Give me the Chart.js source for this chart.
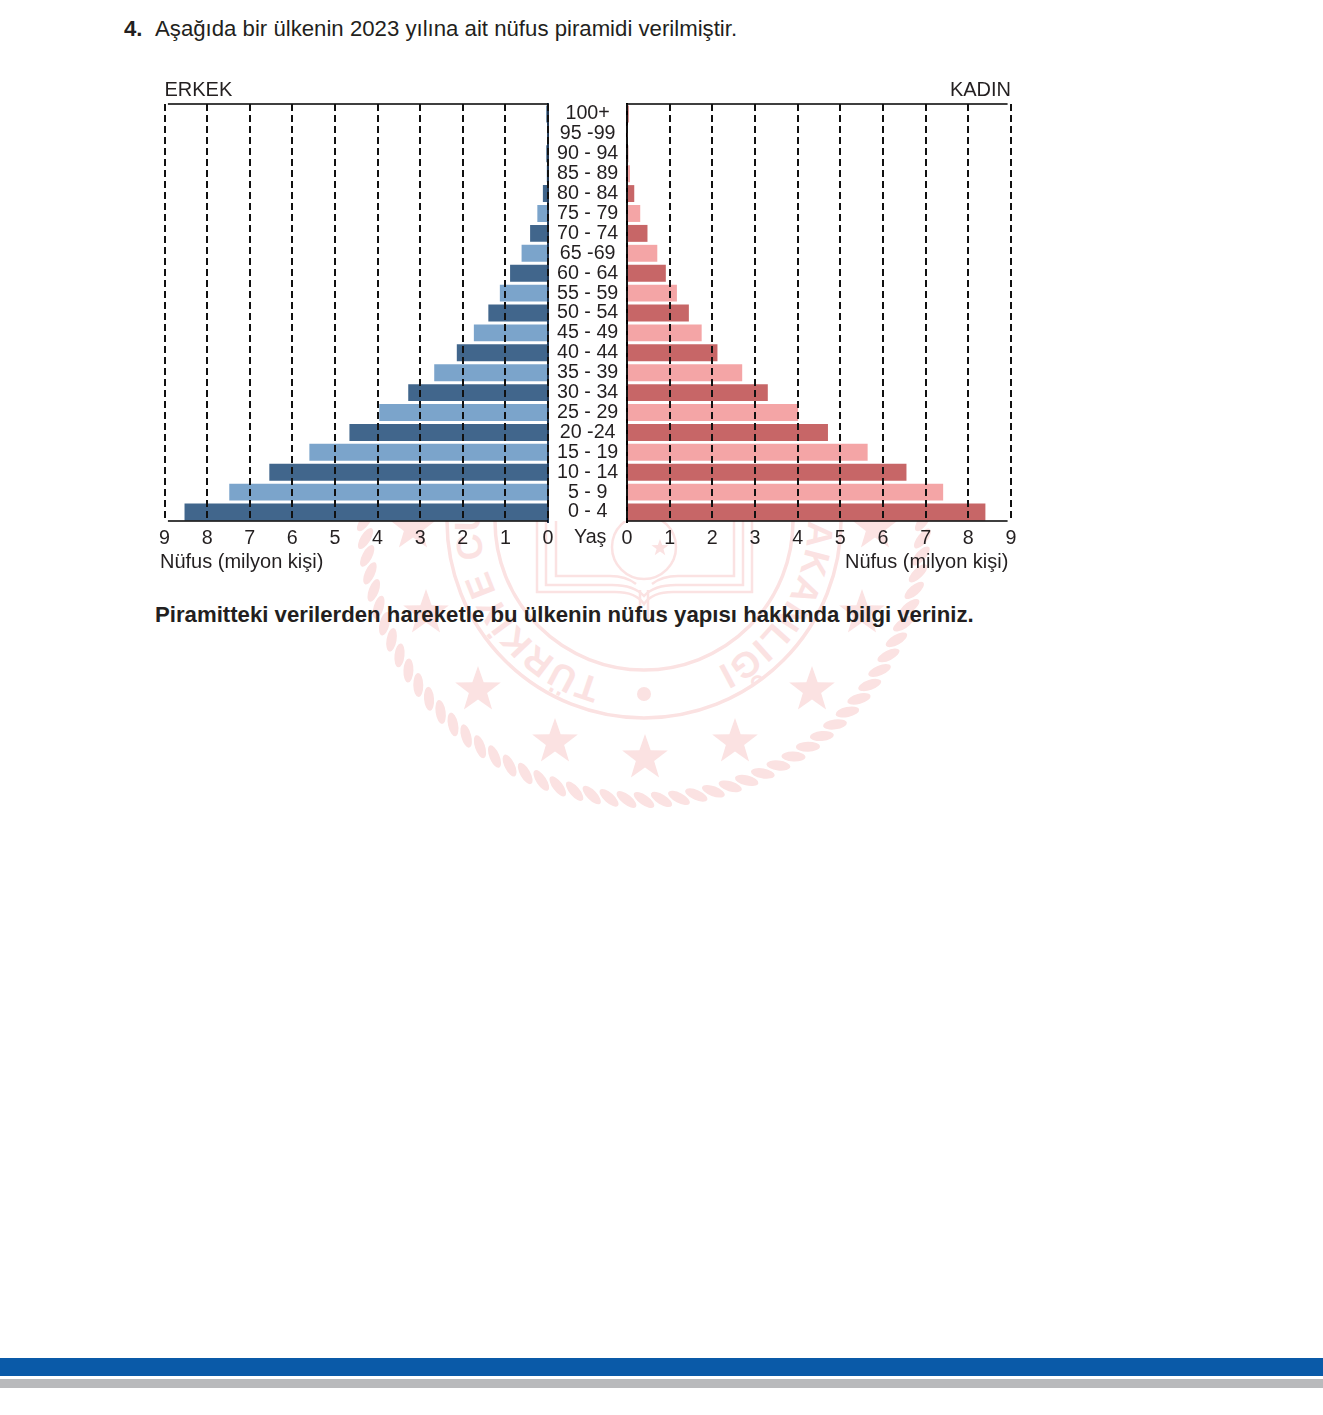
<!DOCTYPE html>
<html lang="tr">
<head>
<meta charset="utf-8">
<title>Nüfus piramidi</title>
<script src="https://cdn.jsdelivr.net/npm/chart.js@4"></script>
<style>
    html, body { margin: 0; padding: 0; background: #fff; }
    body { width: 1323px; height: 1415px; position: relative; overflow: hidden;
           font-family: "Liberation Sans", Arial, sans-serif; color: #231f20; }
    .abs { position: absolute; white-space: nowrap; line-height: 1; }
    #seal { position: absolute; left: 0; top: 0; }
    #cover { position: absolute; left: 150px; top: 70px; width: 870px; height: 451px; background: #fff; }
    canvas { position: absolute; }
    #bandBlue { position: absolute; left: 0; top: 1358px; width: 1323px; height: 18px; background: #0a5aa8; }
    #bandGrey { position: absolute; left: 0; top: 1379px; width: 1323px; height: 9px; background: #b9babc; }
</style>
</head>
<body>
<svg id="seal" width="1323" height="900" xmlns="http://www.w3.org/2000/svg"></svg>
<div id="cover"></div>

<div class="abs" style="left:124px;top:18px;font-size:22.2px;font-weight:bold;">4.</div>
<div class="abs" style="left:155px;top:18px;font-size:22.2px;">Aşağıda bir ülkenin 2023 yılına ait nüfus piramidi verilmiştir.</div>

<div style="position:absolute;left:150px;top:20px;width:477px;height:560px;"><canvas id="erkekChart"></canvas></div>
<div style="position:absolute;left:610px;top:20px;width:415px;height:560px;"><canvas id="kadinChart"></canvas></div>

<div class="abs" style="left:574px;top:527px;font-size:19.7px;">Yaş</div>
<div class="abs" style="left:160px;top:551px;font-size:20px;">Nüfus (milyon kişi)</div>
<div class="abs" style="left:845px;top:551px;font-size:20px;">Nüfus (milyon kişi)</div>
<div class="abs" style="left:155px;top:604px;font-size:22.2px;font-weight:bold;">Piramitteki verilerden hareketle bu ülkenin nüfus yapısı hakkında bilgi veriniz.</div>

<div id="bandBlue"></div>
<div id="bandGrey"></div>

<script>
// Yaş grupları (yukarıdan aşağıya)
var ageGroups = ['100+', '95 -99', '90 - 94', '85 - 89', '80 - 84', '75 - 79', '70 - 74', '65 -69', '60 - 64',
    '55 - 59', '50 - 54', '45 - 49', '40 - 44', '35 - 39', '30 - 34', '25 - 29', '20 -24', '15 - 19',
    '10 - 14', '5 - 9', '0 - 4'];

// Nüfus (milyon kişi)
var maleValues = [0.04, 0.02, 0.04, 0.03, 0.12, 0.25, 0.42, 0.62, 0.89, 1.13, 1.40, 1.74, 2.14, 2.67,
    3.28, 3.96, 4.66, 5.60, 6.54, 7.48, 8.53];
var femaleValues = [0.04, 0.02, 0.03, 0.07, 0.17, 0.31, 0.48, 0.71, 0.91, 1.17, 1.45, 1.75, 2.12, 2.70,
    3.30, 4.01, 4.71, 5.64, 6.55, 7.41, 8.40];

var textColor = '#231f20';
var labelFont = { family: '"Liberation Sans", Arial, sans-serif', size: 19.7 };

// Üst ve alt yatay çizgiler, grafiğin kendi ölçeğinden
var framePlugin = {
    id: 'frame',
    afterDatasetsDraw: function(chart, args, opts) {
        var c = chart.ctx, area = chart.chartArea;
        var x0 = chart.scales.x.getPixelForValue(0);
        var x1 = chart.scales.x.getPixelForValue(opts.end);
        c.save();
        c.strokeStyle = '#000';
        c.lineWidth = 1.5;
        c.beginPath();
        c.moveTo(x0, area.top);
        c.lineTo(x1, area.top);
        c.moveTo(x0, area.bottom - 1);
        c.lineTo(x1, area.bottom - 1);
        c.stroke();
        c.restore();
    }
};

function makeSide(canvasId, label, values, dark, light, isLeft) {
    return new Chart(document.getElementById(canvasId).getContext('2d'), {
        type: 'bar',
        data: {
            labels: ageGroups,
            datasets: [{
                label: label,
                data: values,
                backgroundColor: function(c) { return c.dataIndex % 2 === 0 ? dark : light; },
                categoryPercentage: 1,
                barPercentage: 0.85
            }]
        },
        plugins: [framePlugin],
        options: {
            indexAxis: 'y',
            responsive: true,
            maintainAspectRatio: false,
            animation: false,
            layout: {
                padding: isLeft ? { left: 14.5, right: 0, top: 58.5, bottom: 0 } : { left: 17, right: 14, top: 58.5, bottom: 0 }
            },
            plugins: {
                legend: { display: false },
                tooltip: { enabled: false },
                frame: { end: 8.92 },
                title: {
                    display: true,
                    text: label,
                    align: isLeft ? 'start' : 'end',
                    color: textColor,
                    font: { family: labelFont.family, size: 20, weight: 'normal' },
                    padding: { top: 0, bottom: 1.5 }
                }
            },
            scales: {
                x: {
                    type: 'linear',
                    min: 0,
                    max: 9,
                    reverse: isLeft,
                    afterFit: function(s) { s.height = 58; },
                    grid: { color: '#111', lineWidth: 2, z: 1, drawTicks: false },
                    border: { display: false, dash: [7, 4] },
                    ticks: { stepSize: 1, color: textColor, font: labelFont, padding: 5, maxRotation: 0 }
                },
                y: {
                    type: 'category',
                    position: isLeft ? 'right' : 'left',
                    afterFit: function(s) { s.width = isLeft ? 79 : 0; },
                    grid: { display: false },
                    border: { color: isLeft ? '#1f3550' : '#000', width: 2 },
                    ticks: {
                        display: isLeft,
                        autoSkip: false,
                        color: textColor,
                        font: labelFont,
                        crossAlign: 'center',
                        padding: 1
                    }
                }
            }
        }
    });
}

// Arka plandaki soluk mühür (süs, veri değil)
function drawSeal() {
    var svg = document.getElementById('seal');
    var cx = 644, cy = 521, col = '#fbe2e2';
    var html = '';
    var i;
    for (i = 0; i < 360; i += 3.6) {
        var a = i * Math.PI / 180;
        html += '<ellipse cx="' + (cx + 279 * Math.cos(a)) + '" cy="' + (cy + 279 * Math.sin(a)) +
            '" rx="12" ry="5" fill="' + col + '" transform="rotate(' + (i + 90 + 35) + ' ' +
            (cx + 279 * Math.cos(a)) + ' ' + (cy + 279 * Math.sin(a)) + ')"/>';
    }
    html += '<circle cx="644" cy="521" r="197" fill="none" stroke="' + col + '" stroke-width="3.5"/>';
    html += '<circle cx="644" cy="521" r="149" fill="none" stroke="' + col + '" stroke-width="3.5"/>';
    html += '<circle cx="644" cy="694" r="7" fill="' + col + '"/>';
    var stars = [[413, 528], [426, 613], [478, 690], [555, 742], [645, 758], [735, 742], [812, 690], [862, 613], [875, 528]];
    stars.forEach(function(s) { html += starShape(s[0], s[1], 24, col); });
    html += starShape(660, 548, 9, col);
    // Yazı halkası
    html += '<defs><path id="sealPath" d="M 601.9 679.1 A 164 164 0 1 1 686.1 679.1"/></defs>';
    html += '<text font-family="Liberation Sans" font-weight="bold" font-size="36" letter-spacing="1.1" fill="' + col + '">' +
        '<textPath href="#sealPath">TÜRKİYE CUMHURİYETİ MİLLÎ EĞİTİM BAKANLIĞI</textPath></text>';
    // Kitap ve hilal
    html += '<g fill="none" stroke="' + col + '" stroke-width="2.5">' +
        '<path d="M537 521 V592 H615 Q636 592 644 604 Q652 592 673 592 H752 V521"/>' +
        '<path d="M546 521 V585 H612 Q634 585 644 596 Q654 585 676 585 H743 V521"/>' +
        '<path d="M556 521 V576 H610 Q626 576 636 584 M652 584 Q662 576 678 576 H734 V521"/>' +
        '<path d="M640 590 V620 M648 590 V620"/>' +
        '<circle cx="644" cy="547" r="32"/></g>';
    html += '<path d="M650 525 A 22 22 0 1 0 650 569 A 18 18 0 1 1 650 525 Z" fill="' + col + '"/>';
    svg.innerHTML = html;
}

function starShape(x, y, r, col) {
    var pts = [];
    for (var i = 0; i < 10; i++) {
        var rad = i % 2 === 0 ? r : r * 0.4;
        var a = -Math.PI / 2 + i * Math.PI / 5;
        pts.push((x + rad * Math.cos(a)) + ',' + (y + rad * Math.sin(a)));
    }
    return '<polygon points="' + pts.join(' ') + '" fill="' + col + '"/>';
}

drawSeal();
makeSide('erkekChart', 'ERKEK', maleValues, '#41668c', '#7ba4cb', true);
makeSide('kadinChart', 'KADIN', femaleValues, '#c76667', '#f4a5a6', false);
</script>
</body>
</html>
